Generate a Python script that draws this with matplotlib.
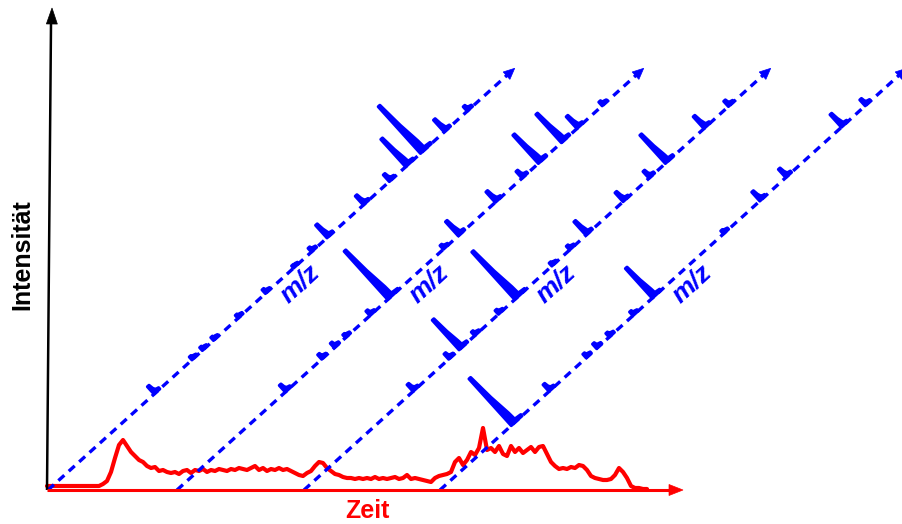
import numpy as np
import matplotlib
matplotlib.use("Agg")
import matplotlib.pyplot as plt
from matplotlib.patches import Polygon

# ---------------- data ----------------
# chromatogram (total ion current), sampled every 4 time units from the origin
tic_intensity = [4, 4, 4, 4, 4, 4, 4, 4, 4, 4, 4, 4, 4, 4,
                 6, 9, 18, 32, 45, 50, 44, 38, 34, 30, 28, 24, 22, 23, 19, 20, 18, 17, 18, 16,
                 19, 20, 17, 20, 19, 21, 18, 20, 19, 21, 20, 19, 21, 20, 22, 21, 20, 22, 24, 20,
                 22, 19, 21, 20, 22, 20, 21, 19, 17, 15, 14, 17, 19, 24, 28, 27, 22, 19, 16, 15,
                 13, 12, 12, 11, 12, 11, 12, 11, 13, 11, 12, 11, 12, 13, 11, 12, 15, 11, 12, 11,
                 10, 9, 8, 12, 14, 15, 16, 18, 28, 32, 25, 30, 38, 35, 42, 62, 40, 42, 38, 44,
                 36, 34, 44, 38, 42, 37, 40, 43, 38, 43, 44, 36, 28, 24, 21, 22, 21, 23, 22, 25,
                 24, 20, 14, 12, 11, 10, 10, 11, 15, 22, 18, 12, 4, 2, 2, 1, 1]
time_step = 4

# retention times at which a mass spectrum was recorded
scan_times = [1, 130, 257, 393]
mz_axis_length = 629
mz_axis_angle = 42.1  # degrees

# mass spectra: position along the m/z axis and intensity
spec1_mz = [143, 194, 208, 223, 256, 293, 331, 355, 376, 425, 460, 482, 502, 534, 565]
spec1_int = [10, 4, 4, 4, 4, 5, 3, 5, 17, 12, 9, 37, 63, 16, 6]
spec2_mz = [146, 195, 212, 227, 260, 284, 359, 379, 429, 465, 487, 518, 539, 573]
spec2_int = [9, 6, 6, 4, 6, 65, 5, 19, 14, 9, 38, 38, 16, 5]
spec3_mz = [147, 195, 209, 230, 262, 284, 334, 358, 380, 430, 465, 487, 539, 572]
spec3_int = [9, 7, 40, 5, 5, 64, 4, 5, 18, 12, 9, 38, 16, 7]
spec4_mz = [96, 147, 197, 211, 228, 260, 286, 382, 431, 466, 541, 573]
spec4_int = [63, 9, 5, 6, 5, 5, 40, 4, 12, 11, 17, 8]
spectra = [(spec1_mz, spec1_int), (spec2_mz, spec2_int),
           (spec3_mz, spec3_int), (spec4_mz, spec4_int)]

x_label = "Zeit"
y_label = "Intensität"
mz_label = "m/z"

BLUE = "#0000FF"
RED = "#FF0000"

# ---------------- figure ----------------
W, H = 902, 524
fig = plt.figure(figsize=(W / 100, H / 100), dpi=100)
ax = fig.add_axes([0, 0, 1, 1])
ax.set_xlim(-47, W - 47)
ax.set_ylim(-34, H - 34)
ax.axis("off")

ang = np.deg2rad(mz_axis_angle)
d = np.array([np.cos(ang), np.sin(ang)])
n = np.array([-np.sin(ang), np.cos(ang)])


def head(tip, direction, length, width, color):
    direction = np.asarray(direction, float)
    direction /= np.linalg.norm(direction)
    perp = np.array([-direction[1], direction[0]])
    base = np.asarray(tip) - length * direction
    pts = [tip, base + perp * width / 2, base - perp * width / 2]
    ax.add_patch(Polygon(pts, closed=True, facecolor=color, edgecolor=color,
                         lw=0.5, zorder=6))


# black intensity axis
ax.plot([0, 4], [0, 466], color="black", lw=1.8, solid_capstyle="butt", zorder=5)
head((5, 482), (4, 466), 16, 11, "black")

# red time axis
ax.plot([0, 626], [0, 0], color=RED, lw=2.2, solid_capstyle="butt", zorder=5)
head((636, 0), (1, 0), 14, 11, RED)

# chromatogram
t = time_step * np.arange(len(tic_intensity))
ax.plot(t, tic_intensity, color=RED, lw=3.0, solid_joinstyle="round",
        solid_capstyle="round", zorder=3)


def peak_shape(s, h):
    wt = 2.2
    wb = 3.4 + 0.05 * h
    ft = 3.0 + 0.08 * h
    fh = 1.8
    return [(s, 0), (s, h), (s + wt, h),
            (s + wt + 0.4 * (wb - wt), 0.55 * h),
            (s + wb, 0.15 * h + fh), (s + wb + 0.5, fh + 0.8),
            (s + wb + ft, fh), (s + wb + ft, 0)]


# m/z axes with spectra
for k, (st, (mzs, ints)) in enumerate(zip(scan_times, spectra)):
    S = np.array([st, 0.0])
    end = S + (mz_axis_length - 10) * d
    ax.plot([S[0], end[0]], [S[1], end[1]], color=BLUE, lw=2.4,
            dashes=(2.4, 1.8), dash_capstyle="butt", zorder=4)
    head(S + mz_axis_length * d, d, 11, 10, BLUE)
    for s, h in zip(mzs, ints):
        pts = [S + u * d + v * n for (u, v) in peak_shape(s, h)]
        ax.add_patch(Polygon(pts, closed=True, facecolor=BLUE, edgecolor=BLUE,
                             lw=2.2, joinstyle="round", zorder=5))
    lp = S + 325 * d - 16 * n
    ax.text(lp[0], lp[1], mz_label, color=BLUE, fontsize=19, fontweight="bold",
            fontstyle="italic", family="Liberation Sans", rotation=mz_axis_angle,
            rotation_mode="anchor", ha="center", va="center", zorder=7)

ax.text(320, -27.5, x_label, color=RED, fontsize=18, fontweight="bold",
        family="Liberation Sans", ha="center", va="baseline")
ax.text(-25, 235, y_label, color="black", fontsize=18, fontweight="bold",
        family="Liberation Sans", rotation=90, ha="center", va="center")

fig.savefig("out.png", dpi=100)
